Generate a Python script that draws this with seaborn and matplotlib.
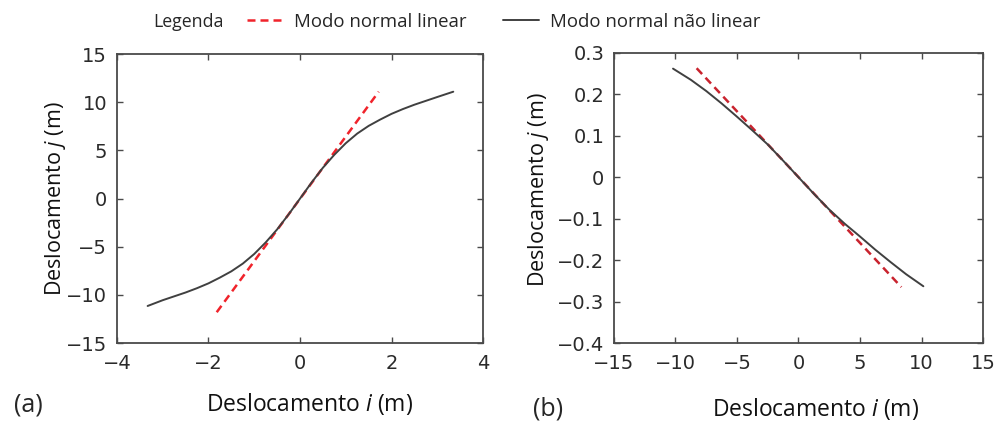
import pandas as pd
import seaborn as sns
import matplotlib.pyplot as plt

# Panel (a): displacement i vs j
a_nl_x = [-3.33, -3.0, -2.75, -2.5, -2.25, -2.0, -1.75, -1.5, -1.25, -1.0, -0.75, -0.5,
          -0.25, 0.0, 0.25, 0.5, 0.75, 1.0, 1.25, 1.5, 1.75, 2.0, 2.25, 2.5, 2.75,
          3.0, 3.35]
a_nl_y = [-11.15, -10.55, -10.15, -9.75, -9.3, -8.8, -8.2, -7.55, -6.75, -5.75, -4.55,
          -3.2, -1.65, 0.0, 1.65, 3.2, 4.55, 5.75, 6.75, 7.55, 8.2, 8.8, 9.3, 9.75,
          10.15, 10.55, 11.1]
a_lin_x = [-1.82, 1.72]
a_lin_y = [-11.8, 11.1]

# Panel (b)
b_nl_x = [-10.2, -8.75, -7.5, -6.25, -5.0, -3.75, -2.5, -1.25, 0.0, 1.25, 2.5, 3.75,
          5.0, 6.25, 7.5, 8.75, 10.15]
b_nl_y = [0.262, 0.235, 0.208, 0.178, 0.146, 0.113, 0.079, 0.040, 0.0, -0.040, -0.078,
          -0.112, -0.143, -0.175, -0.205, -0.234, -0.263]
b_lin_x = [-8.28, 8.36]
b_lin_y = [0.263, -0.265]

lab_linear = "Modo normal linear"
lab_nonlinear = "Modo normal não linear"

sns.set_theme(style="ticks")
plt.rcParams["font.family"] = ["DejaVu Sans"]
plt.rcParams["mathtext.fontset"] = "custom"
plt.rcParams["mathtext.it"] = "Open Sans:italic"
plt.rcParams["mathtext.rm"] = "Open Sans"

fig = plt.figure(figsize=(9.98, 4.23), dpi=100)
ax_a = fig.add_axes([0.1172, 0.189, 0.3668, 0.683])
ax_b = fig.add_axes([0.6152, 0.189, 0.3698, 0.686])

xlabel_font = dict(family="Open Sans", size=16.5, color="#111111")
ylabel_font = dict(family="Open Sans", size=15.5, color="#111111")


def style_axes(ax):
    for sp in ax.spines.values():
        sp.set_color("#4a4a4a")
        sp.set_linewidth(1.3)
    ax.tick_params(direction="in", length=4, width=1.0, color="#4a4a4a",
                   top=True, right=True, labelsize=14, labelcolor="#2a2a2a")
    ax.tick_params(axis="y", pad=7)
    ax.tick_params(axis="x", pad=8)


dash = (0, (3.2, 2.0))

# (a)
sns.lineplot(x=a_lin_x, y=a_lin_y, ax=ax_a, color="#f0232b", lw=1.8,
             linestyle=dash, label=lab_linear, sort=False)
sns.lineplot(x=a_nl_x, y=a_nl_y, ax=ax_a, color="#404040", lw=1.4,
             label=lab_nonlinear, sort=False)
ax_a.set_xlim(-4, 4)
ax_a.set_ylim(-15, 15)
ax_a.set_xticks([-4, -2, 0, 2, 4])
ax_a.set_yticks([-15, -10, -5, 0, 5, 10, 15])
ax_a.set_xticklabels(["\u22124", "\u22122", "0", "2", "4"])
ax_a.set_yticklabels(["\u221215", "\u221210", "\u22125", "0", "5", "10", "15"])
style_axes(ax_a)
ax_a.set_xlabel("Deslocamento $\\mathit{i}$ (m)", **xlabel_font)
ax_a.set_ylabel("Deslocamento $\\mathit{j}$ (m)", **ylabel_font)
ax_a.xaxis.set_label_coords(0.527, -0.166)
ax_a.yaxis.set_label_coords(-0.134, 0.50)

# (b)
sns.lineplot(x=b_lin_x, y=b_lin_y, ax=ax_b, color="#c9232e", lw=1.8,
             linestyle=dash, sort=False)
sns.lineplot(x=b_nl_x, y=b_nl_y, ax=ax_b, color="#404040", lw=1.4, sort=False)
ax_b.set_xlim(-15, 15)
ax_b.set_ylim(-0.4, 0.3)
ax_b.set_xticks([-15, -10, -5, 0, 5, 10, 15])
ax_b.set_xticklabels(["\u221215", "\u221210", "\u22125", "0", "5", "10", "15"])
ax_b.set_yticks([-0.4, -0.3, -0.2, -0.1, 0, 0.1, 0.2, 0.3])
ax_b.set_yticklabels(["\u22120.4", "\u22120.3", "\u22120.2", "\u22120.1", "0",
                      "0.1", "0.2", "0.3"])
style_axes(ax_b)
ax_b.set_xlabel("Deslocamento $\\mathit{i}$ (m)", **xlabel_font)
ax_b.set_ylabel("Deslocamento $\\mathit{j}$ (m)", **ylabel_font)
ax_b.xaxis.set_label_coords(0.545, -0.183)
ax_b.yaxis.set_label_coords(-0.171, 0.53)

# panel letters
fig.text(0.028, 1 - 405 / 423, "(a)", family="Open Sans", size=18, ha="center", va="center")
fig.text(0.549, 1 - 409 / 423, "(b)", family="Open Sans", size=18, ha="center", va="center")

# legend at top
handles, labels = ax_a.get_legend_handles_labels()
ax_a.get_legend().remove()
fig.text(153 / 998, 1 - 22 / 423, "Legenda", family="Open Sans", size=12.8, va="center")
fig.legend(handles, labels, loc="center left", bbox_to_anchor=(247 / 998, 1 - 22 / 423),
           ncol=2, frameon=False, prop=dict(family="Open Sans", size=13.4),
           handlelength=1.9, handletextpad=0.6, columnspacing=2.0,
           borderpad=0, borderaxespad=0)

fig.savefig("out.png", dpi=100)
